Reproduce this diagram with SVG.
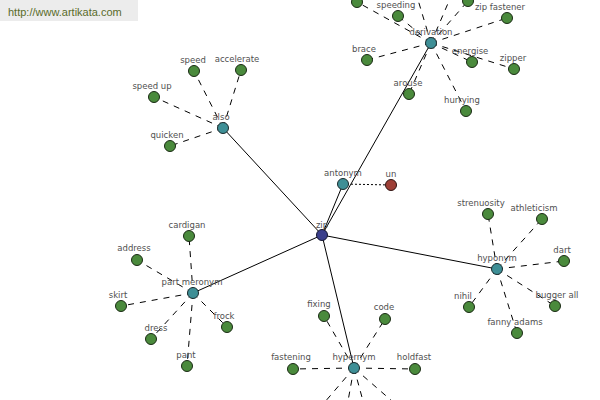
<svg xmlns="http://www.w3.org/2000/svg" width="600" height="400" viewBox="0 0 600 400">
<style>
.solid{stroke:#000;stroke-width:1;fill:none}
.dash{stroke:#000;stroke-width:1;stroke-dasharray:6,6;fill:none}
.dot{stroke:#000;stroke-width:1;stroke-dasharray:2,2;fill:none}
.leaf{fill:#4a8a3c;stroke:#1a2a14;stroke-width:1}
.hub{fill:#3e8f96;stroke:#1a2a2c;stroke-width:1}
.root{fill:#3b3f8c;stroke:#14162e;stroke-width:1}
.neg{fill:#9e3f36;stroke:#2e1210;stroke-width:1}
text{font-family:"DejaVu Sans","Liberation Sans",sans-serif;font-size:8.5px;fill:#505050;text-anchor:middle}
</style>
<rect width="600" height="400" fill="#fff"/>
<g id="logo">
<rect x="0" y="0" width="138" height="21" fill="#ececec"/>
<text x="8" y="16" style="text-anchor:start;font-family:'Liberation Sans',Arial,sans-serif;font-size:11px;fill:#5a6b2a">http://www.artikata.com</text>
</g>
<g id="connectors">
<line class="solid" x1="322" y1="235" x2="223" y2="128"/>
<line class="solid" x1="322" y1="235" x2="431" y2="43"/>
<line class="solid" x1="322" y1="235" x2="343" y2="184"/>
<line class="solid" x1="322" y1="235" x2="497" y2="269"/>
<line class="solid" x1="322" y1="235" x2="193" y2="293"/>
<line class="solid" x1="322" y1="235" x2="354" y2="368"/>
<line class="dot" x1="343" y1="184" x2="391" y2="185"/>
<line class="dash" x1="223" y1="128" x2="194" y2="71"/>
<line class="dash" x1="223" y1="128" x2="241" y2="70"/>
<line class="dash" x1="223" y1="128" x2="154" y2="97"/>
<line class="dash" x1="223" y1="128" x2="170" y2="146"/>
<line class="dash" x1="431" y1="43" x2="357" y2="2"/>
<line class="dash" x1="431" y1="43" x2="398" y2="16"/>
<line class="dash" x1="431" y1="43" x2="412" y2="-20"/>
<line class="dash" x1="431" y1="43" x2="458" y2="-20"/>
<line class="dash" x1="431" y1="43" x2="468" y2="1"/>
<line class="dash" x1="431" y1="43" x2="507" y2="18"/>
<line class="dash" x1="431" y1="43" x2="367" y2="60"/>
<line class="dash" x1="431" y1="43" x2="472" y2="62"/>
<line class="dash" x1="431" y1="43" x2="514" y2="69"/>
<line class="dash" x1="431" y1="43" x2="409" y2="94"/>
<line class="dash" x1="431" y1="43" x2="466" y2="111"/>
<line class="dash" x1="497" y1="269" x2="488" y2="214"/>
<line class="dash" x1="497" y1="269" x2="542" y2="219"/>
<line class="dash" x1="497" y1="269" x2="564" y2="261"/>
<line class="dash" x1="497" y1="269" x2="555" y2="306"/>
<line class="dash" x1="497" y1="269" x2="517" y2="333"/>
<line class="dash" x1="497" y1="269" x2="469" y2="307"/>
<line class="dash" x1="193" y1="293" x2="189" y2="236"/>
<line class="dash" x1="193" y1="293" x2="137" y2="260"/>
<line class="dash" x1="193" y1="293" x2="121" y2="306"/>
<line class="dash" x1="193" y1="293" x2="151" y2="339"/>
<line class="dash" x1="193" y1="293" x2="187" y2="366"/>
<line class="dash" x1="193" y1="293" x2="227" y2="327"/>
<line class="dash" x1="354" y1="368" x2="324" y2="316"/>
<line class="dash" x1="354" y1="368" x2="385" y2="319"/>
<line class="dash" x1="354" y1="368" x2="293" y2="369"/>
<line class="dash" x1="354" y1="368" x2="415" y2="369"/>
<line class="dash" x1="354" y1="368" x2="318" y2="410"/>
<line class="dash" x1="354" y1="368" x2="346" y2="412"/>
<line class="dash" x1="354" y1="368" x2="366" y2="412"/>
<line class="dash" x1="354" y1="368" x2="400" y2="408"/>
</g>
<g id="zip"><circle class="root" cx="322" cy="235" r="5.5"/><text x="322" y="228">zip</text></g>
<g id="antonym"><circle class="hub" cx="343" cy="184" r="5.5"/><text x="343" y="176">antonym</text></g>
<g id="un"><circle class="neg" cx="391" cy="185" r="5.5"/><text x="391" y="177">un</text></g>
<g id="also"><circle class="hub" cx="223" cy="128" r="5.5"/><text x="221" y="120">also</text></g>
<g id="speed"><circle class="leaf" cx="194" cy="71" r="5.5"/><text x="193" y="63">speed</text></g>
<g id="accelerate"><circle class="leaf" cx="241" cy="70" r="5.5"/><text x="237" y="62">accelerate</text></g>
<g id="speed-up"><circle class="leaf" cx="154" cy="97" r="5.5"/><text x="152" y="89">speed up</text></g>
<g id="quicken"><circle class="leaf" cx="170" cy="146" r="5.5"/><text x="167" y="138">quicken</text></g>
<g id="derivation"><circle class="hub" cx="431" cy="43" r="5.5"/><text x="431" y="35">derivation</text></g>
<g id="d-top1"><circle class="leaf" cx="357" cy="2" r="5.5"/></g>
<g id="speeding"><circle class="leaf" cx="398" cy="16" r="5.5"/><text x="396" y="8">speeding</text></g>
<g id="d-top2"><circle class="leaf" cx="468" cy="1" r="5.5"/></g>
<g id="zip-fastener"><circle class="leaf" cx="507" cy="18" r="5.5"/><text x="500" y="10">zip fastener</text></g>
<g id="brace"><circle class="leaf" cx="367" cy="60" r="5.5"/><text x="364" y="52">brace</text></g>
<g id="energise"><circle class="leaf" cx="472" cy="62" r="5.5"/><text x="470" y="54">energise</text></g>
<g id="zipper"><circle class="leaf" cx="514" cy="69" r="5.5"/><text x="513" y="61">zipper</text></g>
<g id="arouse"><circle class="leaf" cx="409" cy="94" r="5.5"/><text x="408" y="86">arouse</text></g>
<g id="hurrying"><circle class="leaf" cx="466" cy="111" r="5.5"/><text x="462" y="103">hurrying</text></g>
<g id="hyponym"><circle class="hub" cx="497" cy="269" r="5.5"/><text x="497" y="261">hyponym</text></g>
<g id="strenuosity"><circle class="leaf" cx="488" cy="214" r="5.5"/><text x="481" y="206">strenuosity</text></g>
<g id="athleticism"><circle class="leaf" cx="542" cy="219" r="5.5"/><text x="534" y="211">athleticism</text></g>
<g id="dart"><circle class="leaf" cx="564" cy="261" r="5.5"/><text x="562" y="253">dart</text></g>
<g id="bugger-all"><circle class="leaf" cx="555" cy="306" r="5.5"/><text x="557" y="298">bugger all</text></g>
<g id="fanny-adams"><circle class="leaf" cx="517" cy="333" r="5.5"/><text x="515" y="325">fanny adams</text></g>
<g id="nihil"><circle class="leaf" cx="469" cy="307" r="5.5"/><text x="463" y="299">nihil</text></g>
<g id="part-meronym"><circle class="hub" cx="193" cy="293" r="5.5"/><text x="192" y="285">part meronym</text></g>
<g id="cardigan"><circle class="leaf" cx="189" cy="236" r="5.5"/><text x="187" y="228">cardigan</text></g>
<g id="address"><circle class="leaf" cx="137" cy="260" r="5.5"/><text x="134" y="251">address</text></g>
<g id="skirt"><circle class="leaf" cx="121" cy="306" r="5.5"/><text x="118" y="298">skirt</text></g>
<g id="dress"><circle class="leaf" cx="151" cy="339" r="5.5"/><text x="156" y="331">dress</text></g>
<g id="pant"><circle class="leaf" cx="187" cy="366" r="5.5"/><text x="186" y="358">pant</text></g>
<g id="frock"><circle class="leaf" cx="227" cy="327" r="5.5"/><text x="224" y="319">frock</text></g>
<g id="hypernym"><circle class="hub" cx="354" cy="368" r="5.5"/><text x="354" y="360">hypernym</text></g>
<g id="fixing"><circle class="leaf" cx="324" cy="316" r="5.5"/><text x="319" y="307">fixing</text></g>
<g id="code"><circle class="leaf" cx="385" cy="319" r="5.5"/><text x="384" y="310">code</text></g>
<g id="fastening"><circle class="leaf" cx="293" cy="369" r="5.5"/><text x="291" y="360">fastening</text></g>
<g id="holdfast"><circle class="leaf" cx="415" cy="369" r="5.5"/><text x="414" y="360">holdfast</text></g>
</svg>
